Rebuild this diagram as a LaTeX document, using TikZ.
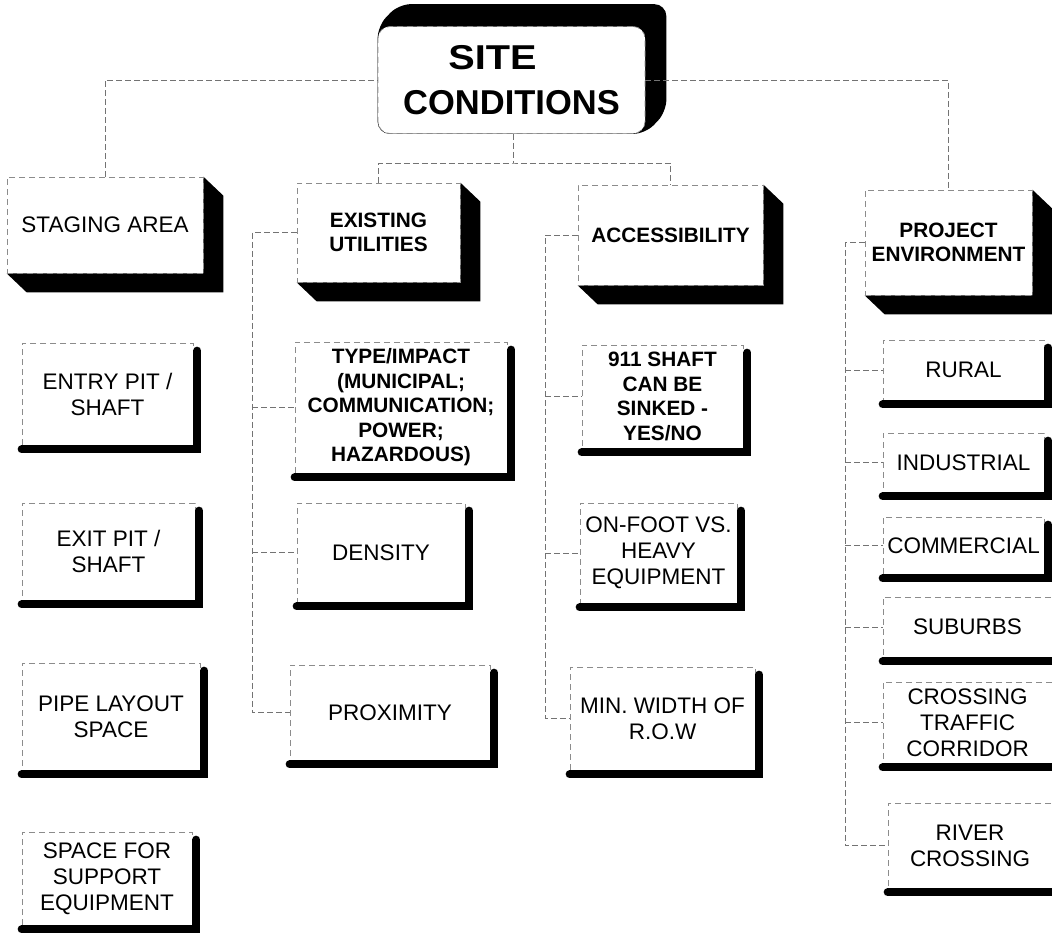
\documentclass[tikz,border=0pt]{standalone}
\usepackage{fontspec}
\setmainfont{Liberation Sans}
\usetikzlibrary{backgrounds,calc}

% text sizes used in the chart
\newcommand\regfont{\fontsize{22.5}{26}\selectfont}
\newcommand\boldfont{\fontsize{20.8}{24.5}\selectfont\bfseries}
\newcommand\ttlfont{\fontsize{34.5}{45.5}\selectfont\bfseries}

\tikzset{
  face/.style={fill=white, draw=black!45, line width=0.7pt,
    dash pattern=on 6pt off 4pt, inner sep=0pt, align=center, font=\regfont},
  boldface/.style={face, font=\boldfont},
  titleface/.style={face, rounded corners=12pt, font=\ttlfont,
    minimum width=267, minimum height=107},
  link/.style={draw=black!55, line width=0.7pt, dash pattern=on 6pt off 3pt},
  bar/.style={line width=8pt, line cap=round, line join=miter},
}

\begin{document}
\begin{tikzpicture}[x=1pt, y=-1pt]
\useasboundingbox (0,0) rectangle (1052,940);
\clip (0,0) rectangle (1052,940);

% ---------- root ----------
\node[titleface] (title) at (511.5,80) {\scalebox{1.15}[1]{SITE}\hspace*{38pt}\\CONDITIONS};

% ---------- column headers ----------
\node[face, minimum width=196, minimum height=96] (stag) at (105,225) {STAGING AREA};
\node[boldface, minimum width=163, minimum height=99] (exist) at (378.5,232.5) {EXISTING\\UTILITIES};
\node[boldface, minimum width=185, minimum height=100] (access) at (670.5,235) {ACCESSIBILITY};
\node[boldface, minimum width=167, minimum height=105] (proj) at (948.5,242.5) {PROJECT\\ENVIRONMENT};

% ---------- staging area ----------
\node[face, minimum width=171, minimum height=102] (entry) at (107.5,394) {ENTRY PIT /\\SHAFT};
\node[face, minimum width=173, minimum height=97] (exitpit) at (108.5,551.5) {EXIT PIT /\\SHAFT};
\node[face, minimum width=178, minimum height=107] (pipe) at (111,716.5) {PIPE LAYOUT\\SPACE};
\node[face, minimum width=170, minimum height=93] (space) at (107,878.5) {SPACE FOR\\SUPPORT\\EQUIPMENT};

% ---------- existing utilities ----------
\node[boldface, minimum width=212, minimum height=131] (type) at (401,407.5)
  {TYPE/IMPACT\\(MUNICIPAL;\\COMMUNICATION;\\POWER;\\HAZARDOUS)};
\node[face, minimum width=168, minimum height=99] (dens) at (381,552.5) {DENSITY};
\node[face, minimum width=200, minimum height=95] (prox) at (390,712.5) {PROXIMITY};

% ---------- accessibility ----------
\node[boldface, minimum width=161, minimum height=103] (shaft) at (662.5,396.5)
  {911 SHAFT\\CAN BE\\SINKED -\\YES/NO};
\node[face, minimum width=157, minimum height=100] (foot) at (658.5,553) {ON-FOOT VS.\\HEAVY\\EQUIPMENT};
\node[face, minimum width=185, minimum height=103] (minw) at (662.5,718.5) {MIN. WIDTH OF\\R.O.W};

% ---------- project environment ----------
\node[face, minimum width=161, minimum height=60] (rural) at (963.5,370) {RURAL};
\node[face, minimum width=161, minimum height=59] (indus) at (963.5,462.5) {INDUSTRIAL};
\node[face, minimum width=161, minimum height=57] (comm) at (963.5,545.5) {COMMERCIAL};
\node[face, minimum width=169, minimum height=60] (subur) at (967.5,627) {SUBURBS};
\node[face, minimum width=169, minimum height=81] (cross) at (967.5,722.5) {CROSSING\\TRAFFIC\\CORRIDOR};
\node[face, minimum width=164, minimum height=85] (river) at (970,845.5) {RIVER\\CROSSING};

% ---------- page and 3-D blocks behind the faces ----------
\begin{pgfonlayer}{background}
  \fill[white] (0,0) rectangle (1052,940);
  \fill[rounded corners=12pt] (title.south west) -- (title.north west)
    -- ($(title.north west)+(21,-22)$) -- ($(title.north east)+(21,-22)$)
    -- ($(title.south east)+(21,-22)$) -- (title.south east) -- cycle;
  \foreach \b in {stag,exist,access,proj}{
    \fill (\b.north east) -- ($(\b.north east)+(20,19)$)
      -- ($(\b.south east)+(20,19)$) -- ($(\b.south west)+(20,19)$)
      -- (\b.south west) -- (\b.south east) -- cycle;
  }
\end{pgfonlayer}

% ---------- drop-shadow bars of the item boxes ----------
\foreach \b in {entry,exitpit,pipe,space,type,dens,prox,shaft,foot,minw,rural,indus,comm,subur,cross,river}{
  \draw[bar] ($(\b.north east)+(4,8)$) -- ($(\b.south east)+(4,4)$) -- ($(\b.south west)+(0,4)$);
}

% ---------- connectors ----------
\coordinate (br) at (513,163);
\draw[link] (stag.north) |- (title.west);
\draw[link] (title.east) -| (proj.north);
\draw[link] (title.south -| br) -- (br);
\draw[link] (exist.north) |- (br) -| (access.north);

\coordinate (v2) at (252,0);
\draw[link] (exist.west) -- (exist.west -| v2) -- (prox.west -| v2) -- (prox.west);
\draw[link] (type.west -| v2) -- (type.west);
\draw[link] (dens.west -| v2) -- (dens.west);

\coordinate (v3) at (545,0);
\draw[link] (access.west) -- (access.west -| v3) -- (minw.west -| v3) -- (minw.west);
\draw[link] (shaft.west -| v3) -- (shaft.west);
\draw[link] (foot.west -| v3) -- (foot.west);

\coordinate (v4) at (845,0);
\draw[link] (proj.west) -- (proj.west -| v4) -- (river.west -| v4) -- (river.west);
\foreach \b in {rural,indus,comm,subur,cross}{
  \draw[link] (\b.west -| v4) -- (\b.west);
}
\end{tikzpicture}
\end{document}
